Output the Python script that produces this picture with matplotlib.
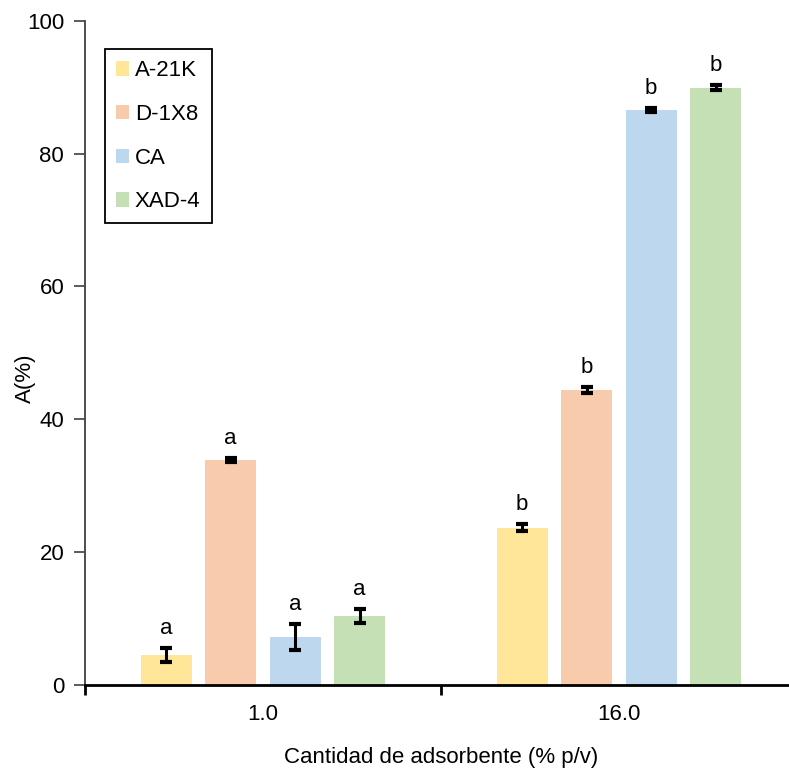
import numpy as np
import matplotlib
matplotlib.use("Agg")
import matplotlib.pyplot as plt
from matplotlib.ticker import FixedLocator

plt.rcParams["font.family"] = ["Liberation Sans", "DejaVu Sans"]
plt.rcParams["font.size"] = 16

# Data
groups = ["1.0", "16.0"]
series = ["A-21K", "D-1X8", "CA", "XAD-4"]
colors = ["#FFE699", "#F8CBAD", "#BDD7EE", "#C5E0B4"]
values = {
    "A-21K": [4.5, 23.7],
    "D-1X8": [33.8, 44.4],
    "CA": [7.2, 86.5],
    "XAD-4": [10.4, 89.9],
}
errors = {
    "A-21K": [1.0, 0.5],
    "D-1X8": [0.3, 0.5],
    "CA": [2.0, 0.3],
    "XAD-4": [1.0, 0.4],
}
letters = ["a", "b"]

fig = plt.figure(figsize=(7.89, 7.74), dpi=100)
ax = fig.add_axes([0.1077, 0.115, 0.8923, 0.8583])

x = np.arange(len(groups))
pitch = 0.181
width = 0.143

for i, name in enumerate(series):
    pos = x + (i - 1.5) * pitch
    ax.bar(pos, values[name], width, color=colors[i], label=name, zorder=2)
    ax.errorbar(pos, values[name], yerr=errors[name], fmt="none", ecolor="black",
                elinewidth=2.2, capsize=4.4, capthick=3, zorder=3)
    for j in range(len(groups)):
        ax.annotate(letters[j], (pos[j], values[name][j] + errors[name][j]),
                    xytext=(0, 6.5), textcoords="offset points",
                    ha="center", va="bottom")

ax.set_xlim(-0.5, 1.478)
ax.set_ylim(0, 100)
ax.set_yticks(np.arange(0, 101, 20))

ax.set_xticks(x)
ax.set_xticklabels(groups)
ax.xaxis.set_minor_locator(FixedLocator([-0.5, 0.5, 1.5]))
ax.tick_params(axis="x", which="major", length=0, pad=13.5)
ax.tick_params(axis="x", which="minor", length=7, width=2, direction="out")
ax.tick_params(axis="y", length=8, width=1.2, direction="out", pad=7,
               color="#404040")

for side in ["top", "right"]:
    ax.spines[side].set_visible(False)
ax.spines["left"].set_color("#404040")
ax.spines["left"].set_linewidth(1.3)
ax.spines["bottom"].set_color("black")
ax.spines["bottom"].set_linewidth(2)

ax.set_xlabel("Cantidad de adsorbente (% p/v)")
ax.xaxis.set_label_coords(0.5056, -0.093)
ax.set_ylabel("A(%)")
ax.yaxis.set_label_coords(-0.07, 0.462)

leg = ax.legend(loc="upper left", bbox_to_anchor=(0.0284, 0.957), borderaxespad=0,
                fancybox=False, framealpha=1, edgecolor="black",
                handlelength=0.6, handleheight=0.6, handletextpad=0.25,
                labelspacing=1.02, borderpad=0.5)
leg.get_frame().set_linewidth(1.3)

fig.savefig("out.png", dpi=100)
